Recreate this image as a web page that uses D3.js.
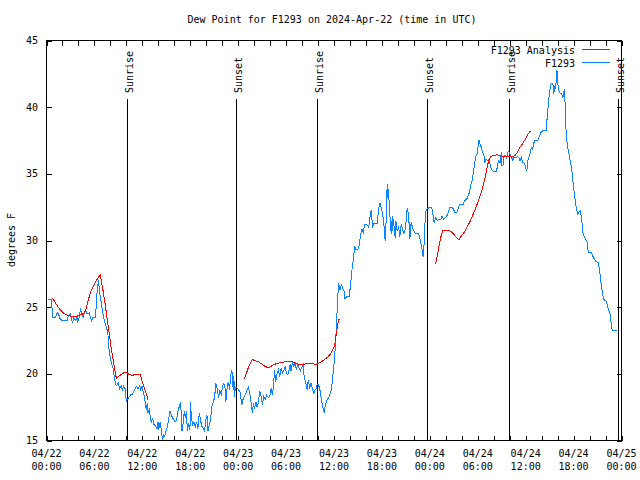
<!DOCTYPE html>
<html><head><meta charset="utf-8">
<script src="https://cdn.jsdelivr.net/npm/d3@7"></script>
<style>
html,body{margin:0;padding:0;background:#fff;}
text{font-family:"DejaVu Sans Mono","Liberation Mono",monospace;font-size:10px;fill:#000;}
</style></head>
<body><svg id="c" width="640" height="480"></svg>
<script>
// ---- data (hours since 2024-04-22 00:00 UTC, dew point °F) ----
const startTime = Date.UTC(2024, 3, 22, 0, 0);
const endTime = Date.UTC(2024, 3, 25, 0, 0);
const yTicks = [15, 20, 25, 30, 35, 40, 45];
const sunEvents = [
  {label: "Sunrise", hour: 10.04}, {label: "Sunset", hour: 23.71},
  {label: "Sunrise", hour: 33.91}, {label: "Sunset", hour: 47.66},
  {label: "Sunrise", hour: 57.91}, {label: "Sunset", hour: 71.54}
];
const stationObs = [
[0.16,25.6],[0.59,25.6],[0.79,24.25],[1.13,24.25],[1.34,24.57],[1.54,24.45],[1.63,24.2],[1.91,24.0],[2.59,24.0],[2.75,24.4],
[3.00,24.5],[3.25,23.8],[3.41,24.2],[3.66,24.0],[3.84,24.25],[3.91,23.95],[4.09,24.2],[4.25,24.9],[4.41,24.45],[4.59,24.25],
[4.75,24.57],[4.91,24.8],[5.09,24.5],[5.34,24.57],[5.50,24.25],[5.66,23.95],[5.84,24.25],[6.16,24.25],[6.25,25.7],[6.50,27.0],
[6.66,26.1],[6.91,25.1],[7.16,24.2],[7.34,23.8],[7.59,23.3],[7.75,22.7],[7.84,21.7],[8.09,20.9],[8.34,20.4],[8.59,19.4],
[8.75,19.1],[9.00,19.3],[9.16,18.9],[9.34,19.1],[9.50,18.8],[9.66,19.06],[9.84,18.9],[10.00,17.95],[10.29,18.2],[10.50,18.4],
[10.79,18.5],[11.04,18.8],[11.25,19.06],[11.46,18.9],[11.66,19.1],[11.79,18.8],[11.96,19.06],[12.09,18.7],[12.25,18.3],[12.38,17.8],
[12.50,17.3],[12.63,17.8],[12.71,17.05],[12.88,17.4],[13.00,16.7],[13.13,16.4],[13.29,16.63],[13.46,16.2],[13.63,16.1],[13.84,15.9],
[13.96,16.4],[14.04,15.8],[14.25,16.4],[14.38,15.7],[14.54,15.05],[14.66,15.43],[14.79,15.3],[14.96,15.7],[15.13,16.05],[15.29,16.55],
[15.46,17.2],[15.63,16.9],[15.79,16.7],[15.96,16.55],[16.13,16.4],[16.29,16.55],[16.46,17.2],[16.63,17.55],[16.79,17.9],[16.88,16.9],
[16.96,15.7],[17.13,16.4],[17.25,17.2],[17.38,16.7],[17.54,17.2],[17.63,15.7],[17.79,16.3],[17.96,15.8],[18.04,17.9],[18.13,16.8],
[18.29,16.2],[18.46,16.38],[18.63,16.05],[18.79,16.4],[18.96,15.9],[19.13,17.05],[19.29,16.5],[19.46,16.05],[19.63,15.9],[19.79,15.7],
[19.96,16.55],[20.09,16.9],[20.21,15.7],[20.38,16.2],[20.54,16.55],[20.71,17.55],[20.88,17.9],[21.04,18.2],[21.21,19.3],[21.38,18.9],
[21.54,18.2],[21.71,18.7],[21.88,18.44],[22.04,19.06],[22.21,19.3],[22.38,18.9],[22.46,17.9],[22.63,19.06],[22.79,19.4],[22.91,18.8],
[23.09,19.94],[23.21,20.3],[23.29,19.7],[23.38,18.8],[23.46,19.8],[23.54,18.3],[23.63,18.9],[23.75,19.0],[24.04,18.8],[24.21,18.7],
[24.46,17.7],[24.66,18.2],[24.88,18.44],[25.13,18.8],[25.29,19.0],[25.50,18.4],[25.63,17.8],[25.79,17.05],[25.91,17.8],[26.04,17.4],
[26.21,17.9],[26.38,17.5],[26.54,17.9],[26.71,18.7],[26.88,18.3],[27.04,17.7],[27.21,18.3],[27.38,18.06],[27.54,18.4],[27.79,18.2],
[27.96,18.3],[28.13,18.9],[28.29,18.44],[28.46,19.3],[28.54,20.3],[28.71,19.4],[28.88,20.06],[29.04,20.3],[29.21,19.8],[29.38,20.45],
[29.54,20.06],[29.71,20.2],[29.88,20.56],[30.04,20.06],[30.21,19.94],[30.38,20.3],[30.50,20.7],[30.63,20.2],[30.79,20.9],[30.96,20.56],
[31.13,20.86],[31.29,20.3],[31.46,20.7],[31.63,20.44],[31.79,20.2],[31.96,20.5],[32.13,20.7],[32.21,20.06],[32.29,19.7],[32.46,19.4],
[32.63,18.8],[32.79,19.56],[32.96,18.9],[33.13,19.3],[33.29,18.9],[33.46,18.55],[33.63,18.8],[33.79,18.9],[33.88,19.2],[34.04,19.2],
[34.21,18.9],[34.34,18.4],[34.46,17.9],[34.63,17.4],[34.79,17.05],[34.91,17.7],[35.16,18.06],[35.41,18.3],[35.63,18.7],[35.79,19.4],
[35.91,20.2],[36.09,21.2],[36.16,22.2],[36.25,22.95],[36.34,23.8],[36.41,25.2],[36.59,26.8],[36.75,26.3],[36.91,26.7],[37.09,26.45],
[37.25,26.2],[37.38,25.6],[37.59,25.8],[37.91,25.8],[38.09,26.8],[38.25,27.8],[38.41,28.5],[38.59,29.6],[38.75,29.34],[38.96,29.3],
[39.16,29.6],[39.34,30.5],[39.50,30.84],[39.66,30.6],[39.84,31.2],[40.09,31.2],[40.34,31.0],[40.50,31.7],[40.66,32.3],[40.84,30.97],
[41.00,31.3],[41.25,31.3],[41.41,31.3],[41.59,32.35],[41.75,32.8],[41.91,32.47],[42.09,31.97],[42.25,31.2],[42.34,30.5],[42.41,29.96],
[42.50,31.1],[42.59,32.7],[42.66,34.27],[42.75,33.2],[42.84,33.85],[42.91,32.7],[43.00,31.97],[43.09,30.7],[43.16,31.47],[43.25,30.5],
[43.34,31.8],[43.50,31.2],[43.66,30.2],[43.75,31.47],[43.91,30.7],[44.09,30.97],[44.25,30.3],[44.41,31.2],[44.59,30.84],[44.75,30.5],
[44.91,30.84],[45.09,31.8],[45.16,32.4],[45.34,31.97],[45.50,30.1],[45.66,31.34],[45.91,30.84],[46.09,30.6],[46.25,30.5],[46.59,30.5],
[46.75,30.2],[46.91,29.7],[47.09,29.1],[47.16,28.8],[47.25,29.34],[47.38,31.2],[47.50,32.2],[47.66,32.35],[47.91,32.47],[48.13,32.5],
[48.29,32.35],[48.54,31.34],[48.75,31.72],[48.96,31.5],[49.13,31.6],[49.38,31.6],[49.54,31.84],[49.71,31.6],[49.96,31.72],[50.13,31.84],
[50.29,32.1],[50.54,32.5],[50.71,32.5],[50.96,32.35],[51.13,32.1],[51.38,32.1],[51.54,32.4],[51.71,32.67],[52.13,32.67],[52.38,33.0],
[52.63,33.1],[52.79,33.35],[52.96,33.6],[53.13,34.17],[53.29,34.47],[53.46,35.1],[53.63,35.85],[53.79,36.35],[53.96,36.53],[54.04,37.03],
[54.16,37.53],[54.29,37.23],[54.46,36.98],[54.63,36.6],[54.79,36.35],[54.88,35.85],[55.04,36.1],[55.21,36.0],[55.38,36.1],[55.54,35.73],
[55.71,35.3],[55.96,35.2],[56.38,35.2],[56.46,35.68],[56.63,36.0],[56.79,35.85],[56.96,36.6],[57.04,35.6],[57.21,35.68],[57.29,36.35],
[57.46,36.35],[57.63,36.1],[57.71,36.6],[57.88,36.68],[58.04,36.48],[58.21,36.28],[58.38,36.0],[58.54,36.23],[58.71,36.23],[59.04,36.28],
[59.21,36.18],[59.29,36.0],[59.46,36.23],[59.63,35.85],[59.88,35.8],[59.96,35.47],[60.13,35.2],[60.29,36.0],[60.54,36.5],[60.71,36.98],
[60.88,36.86],[61.09,37.48],[61.50,37.48],[61.75,37.86],[61.91,38.1],[62.16,38.23],[62.59,38.28],[62.66,38.98],[62.84,40.24],[63.00,41.24],
[63.16,41.74],[63.41,41.8],[63.50,40.99],[63.66,41.6],[63.75,41.37],[63.91,42.8],[64.09,41.37],[64.25,41.1],[64.50,40.99],[64.66,40.74],
[64.84,41.37],[64.91,40.74],[65.00,38.74],[65.16,37.48],[65.34,36.73],[65.50,36.23],[65.66,35.73],[65.84,34.98],[66.00,33.97],[66.16,33.22],
[66.34,32.47],[66.50,31.97],[66.66,32.1],[66.84,32.22],[67.00,31.72],[67.16,30.59],[67.41,30.2],[67.66,29.96],[67.84,29.1],[68.25,29.1],
[68.50,28.7],[68.75,28.46],[69.09,28.33],[69.25,27.83],[69.41,26.95],[69.59,26.2],[69.75,25.58],[70.09,25.45],[70.25,25.08],[70.41,24.75],
[70.59,24.45],[70.66,24.0],[70.84,23.25],[71.41,23.25]
];
const analysisRun1 = [
[0.75,25.65],[1.00,25.45],[1.25,25.2],[1.59,24.9],[1.91,24.7],[2.25,24.5],[2.59,24.4],[3.09,24.32],[3.75,24.32],[4.09,24.4],
[4.41,24.45],[4.75,24.57],[5.00,24.95],[5.25,25.58],[5.50,26.08],[5.75,26.45],[6.00,26.75],[6.25,27.0],[6.50,27.26],[6.75,27.4],
[6.91,26.83],[7.16,25.95],[7.41,24.95],[7.66,23.8],[7.91,22.8],[8.09,21.94],[8.34,21.07],[8.59,20.2],[8.75,19.64],[9.00,19.8],
[9.34,19.94],[9.75,20.1],[10.06,20.06],[10.41,19.94],[10.71,19.89],[11.29,19.96],[11.75,19.94],[12.04,19.3],[12.21,19.0],[12.38,18.7],
[12.54,18.44],[12.71,18.06]
];
const analysisRun2 = [
[24.79,19.64],[25.04,20.06],[25.29,20.5],[25.54,20.81],[25.79,21.07],[26.13,20.99],[26.54,20.9],[26.96,20.74],[27.38,20.56],[27.79,20.45],
[28.13,20.56],[28.46,20.7],[29.04,20.8],[29.46,20.85],[29.88,20.9],[30.29,20.9],[30.79,20.9],[31.13,20.8],[31.54,20.7],[31.88,20.7],
[32.38,20.74],[32.79,20.79],[33.21,20.77],[33.63,20.72],[33.96,20.75],[34.29,20.86],[34.63,20.99],[34.96,21.14],[35.29,21.3],[35.63,21.56],
[35.96,21.94],[36.13,22.32],[36.29,22.95],[36.46,23.7],[36.66,24.15]
];
const analysisRun3 = [
[48.71,28.2],[48.88,28.7],[49.04,29.2],[49.21,29.76],[49.38,30.26],[49.63,30.77],[50.13,30.77],[50.63,30.7],[50.96,30.5],[51.29,30.26],
[51.63,30.06],[51.96,30.34],[52.29,30.6],[52.63,30.97],[52.96,31.34],[53.29,31.77],[53.63,32.27],[53.96,32.77],[54.29,33.35],[54.63,34.0],
[54.88,34.6],[55.13,35.35],[55.38,36.03],[55.63,36.28],[55.96,36.38],[56.46,36.43],[56.96,36.35],[57.38,36.28],[58.21,36.28],[58.63,36.35],
[58.96,36.6],[59.29,37.0],[59.63,37.28],[59.96,37.6],[60.29,37.98],[60.63,38.23]
];
const seriesNames = ["F1293 Analysis", "F1293"];
const seriesColors = ["#ff0000", "#0a84ff"];

// ---- drawing ----
const svg = d3.select("#c");
const L = 46.5, R = 621.5, T = 40.5, B = 440.5;
const toDate = h => new Date(startTime + h * 3600e3);
const x = d3.scaleUtc().domain([new Date(startTime), new Date(endTime)]).range([L, R]);
const y = d3.scaleLinear().domain([15, 45]).range([B, T]);

svg.append("text").attr("x", 332).attr("y", 23).attr("text-anchor", "middle")
  .text("Dew Point for F1293 on 2024-Apr-22 (time in UTC)");
svg.append("text").attr("transform", "translate(15,240) rotate(-90)").attr("text-anchor", "middle")
  .text("degrees F");

const tickTimes = d3.utcHour.every(2).range(new Date(startTime), new Date(endTime + 1));
const labelTimes = d3.utcHour.every(6).range(new Date(startTime), new Date(endTime + 1));

function styleAxis(g) {
  g.select(".domain").remove();
  g.selectAll("line").attr("stroke", "#000").attr("shape-rendering", "crispEdges");
  g.selectAll("text").remove();
}
svg.append("g").attr("transform", `translate(0,${B})`)
  .call(d3.axisBottom(x).tickValues(tickTimes).tickSize(-5)).call(styleAxis);
svg.append("g").attr("transform", `translate(0,${T})`)
  .call(d3.axisTop(x).tickValues(tickTimes).tickSize(-5)).call(styleAxis);
svg.append("g").attr("transform", `translate(${L},0)`)
  .call(d3.axisLeft(y).tickValues(yTicks).tickSize(-5)).call(styleAxis);
svg.append("g").attr("transform", `translate(${R},0)`)
  .call(d3.axisRight(y).tickValues(yTicks).tickSize(-5)).call(styleAxis);

// tick labels
const fmtD = d3.utcFormat("%m/%d"), fmtT = d3.utcFormat("%H:%M");
const xl = svg.append("g");
labelTimes.forEach(t => {
  xl.append("text").attr("x", x(t)).attr("y", 457).attr("text-anchor", "middle").text(fmtD(t));
  xl.append("text").attr("x", x(t)).attr("y", 470).attr("text-anchor", "middle").text(fmtT(t));
});
yTicks.forEach(v => {
  svg.append("text").attr("x", 38).attr("y", y(v) + 3.5).attr("text-anchor", "end").text(v);
});

// sunrise/sunset
sunEvents.forEach(s => {
  const sx = Math.round(x(toDate(s.hour))) + 0.5;
  svg.append("line").attr("x1", sx).attr("x2", sx).attr("y1", 99).attr("y2", B)
    .attr("stroke", "#000").attr("stroke-width", 1).attr("shape-rendering", "crispEdges");
  svg.append("text").attr("transform", `translate(${sx + 5},93) rotate(-90)`)
    .attr("text-anchor", "start").text(s.label);
});

// lines
const line = d3.line().x(d => x(toDate(d[0]))).y(d => y(d[1]));
svg.append("path").datum(stationObs).attr("d", line)
  .attr("fill", "none").attr("stroke", seriesColors[1]).attr("stroke-width", 1)
  .attr("shape-rendering", "crispEdges");
[analysisRun1, analysisRun2, analysisRun3].forEach(run => {
  svg.append("path").datum(run).attr("d", line)
    .attr("fill", "none").attr("stroke", seriesColors[0]).attr("stroke-width", 1)
    .attr("shape-rendering", "crispEdges");
});

// frame
svg.append("rect").attr("x", L).attr("y", T).attr("width", R - L).attr("height", B - T)
  .attr("fill", "none").attr("stroke", "#000").attr("shape-rendering", "crispEdges");

// legend
seriesNames.forEach((n, i) => {
  const ly = 50 + i * 13;
  svg.append("text").attr("x", 575).attr("y", ly + 3.5).attr("text-anchor", "end").text(n);
  svg.append("line").attr("x1", 582).attr("x2", 610).attr("y1", ly - 0.5).attr("y2", ly - 0.5)
    .attr("stroke", seriesColors[i]).attr("stroke-width", 1).attr("shape-rendering", "crispEdges");
});
</script></body></html>
